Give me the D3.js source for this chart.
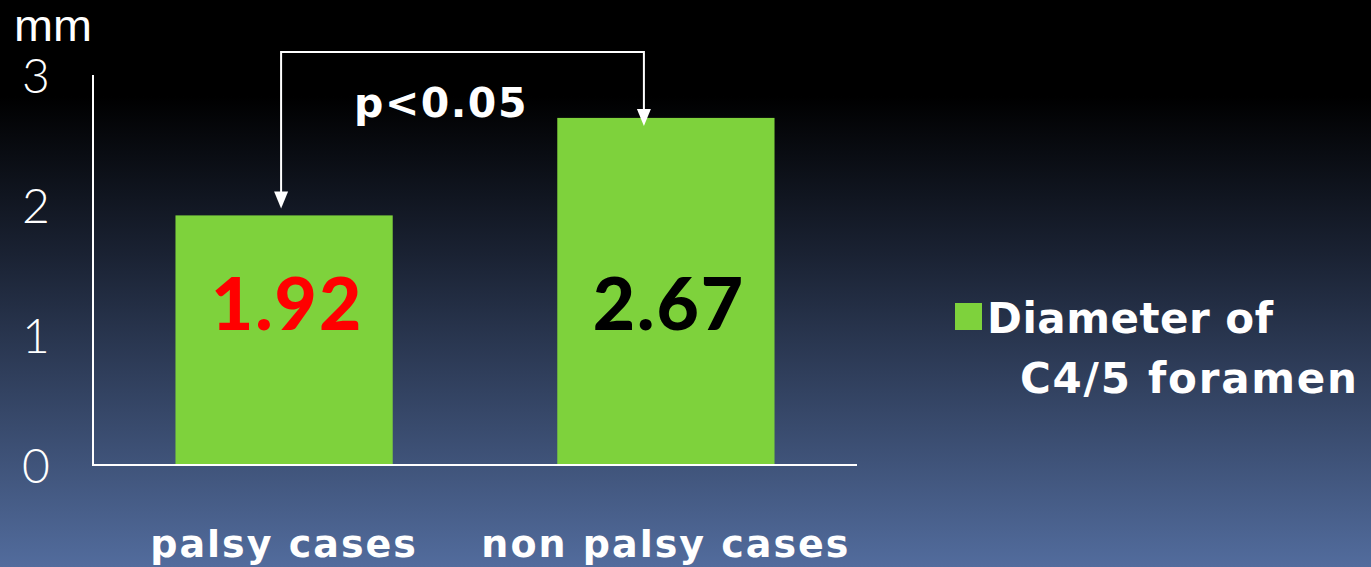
<!DOCTYPE html>
<html><head><meta charset="utf-8">
<script src="https://cdn.jsdelivr.net/npm/d3@7"></script>
<style>html,body{margin:0;padding:0;background:#000;overflow:hidden}</style>
</head><body>
<script>
const categories = ["palsy cases", "non palsy cases"];
const values = [1.92, 2.67];
const valueColors = ["#ff0000", "#000000"];
const yTicks = [0, 1, 2, 3];
const seriesName = ["Diameter of", "C4/5 foramen"];
const unitLabel = "mm";
const sigLabel = "p<0.05";

const W = 1371, H = 567;
const svg = d3.select("body").append("svg").attr("width", W).attr("height", H);
const defs = svg.append("defs");
const grad = defs.append("linearGradient").attr("id","bg").attr("x1",0).attr("y1",0).attr("x2",0).attr("y2",1);
grad.append("stop").attr("offset","0%").attr("stop-color","#000000");
grad.append("stop").attr("offset","17%").attr("stop-color","#000000");
grad.append("stop").attr("offset","45%").attr("stop-color","#1a2233");
grad.append("stop").attr("offset","100%").attr("stop-color","#526c9d");
svg.append("rect").attr("width",W).attr("height",H).attr("fill","url(#bg)");

const x = d3.scaleBand().domain(categories).range([93, 857]).paddingInner(0.431).paddingOuter(0.216);
const y = d3.scaleLinear().domain([0, 3]).range([465, 75]);

// bars
svg.selectAll("rect.bar").data(values).enter().append("rect")
  .attr("class","bar")
  .attr("x",(d,i)=>x(categories[i]))
  .attr("y",d=>y(d))
  .attr("width",x.bandwidth())
  .attr("height",d=>y(0)-y(d))
  .attr("fill","#7ed23c");

// axes
svg.append("line").attr("x1",93).attr("x2",93).attr("y1",y(3)).attr("y2",y(0)+1).attr("stroke","#fff").attr("stroke-width",2);
svg.append("line").attr("x1",93).attr("x2",857).attr("y1",y(0)).attr("y2",y(0)).attr("stroke","#fff").attr("stroke-width",2);

svg.selectAll("text.tick").data(yTicks).enter().append("text")
  .attr("class","tick")
  .attr("x",36).attr("y",d=>y(d)+18)
  .attr("text-anchor","middle")
  .attr("font-family","Lato, Liberation Sans, Arial, sans-serif")
  .attr("font-weight","300")
  .attr("font-size",48)
  .attr("fill","#fff")
  .text(d=>d);

svg.append("text").attr("x",14).attr("y",41)
  .attr("font-family","Liberation Sans, Arial, sans-serif")
  .attr("font-size",44).attr("textLength",78).attr("lengthAdjust","spacingAndGlyphs")
  .attr("fill","#fff").text(unitLabel);

// category labels
svg.selectAll("text.cat").data(categories).enter().append("text")
  .attr("class","cat")
  .attr("x",d=>x(d)+x.bandwidth()/2)
  .attr("y",557)
  .attr("text-anchor","middle")
  .attr("font-family","DejaVu Sans, Verdana, sans-serif")
  .attr("font-weight","bold")
  .attr("font-size",38)
  .attr("letter-spacing",2)
  .attr("fill","#fff")
  .text(d=>d);

// value labels
svg.selectAll("text.val").data(values).enter().append("text")
  .attr("class","val")
  .attr("x",(d,i)=>x(categories[i])+x.bandwidth()/2+3)
  .attr("y",330)
  .attr("text-anchor","middle")
  .attr("font-family","Lato, Open Sans, sans-serif")
  .attr("font-weight","900")
  .attr("font-size",73)
  .attr("letter-spacing",2)
  .attr("fill",(d,i)=>valueColors[i])
  .text(d=>d.toFixed(2));

// significance bracket
const x1 = x(categories[0]) + x.bandwidth()/2 - 3;
const x2 = x(categories[1]) + x.bandwidth()/2 - 22;
const topY = 52;
const tip1 = y(values[0]) - 7;
const tip2 = y(values[1]) + 8;
svg.append("path")
  .attr("d",`M${x1},${tip1-14} L${x1},${topY} L${x2},${topY} L${x2},${tip2-14}`)
  .attr("fill","none").attr("stroke","#fff").attr("stroke-width",2);
[[x1,tip1],[x2,tip2]].forEach(([ax,ay])=>{
  svg.append("path").attr("d",`M${ax-7},${ay-17} L${ax+7},${ay-17} L${ax},${ay} Z`).attr("fill","#fff");
});
svg.append("text").attr("x",441).attr("y",117).attr("text-anchor","middle")
  .attr("font-family","DejaVu Sans, Verdana, sans-serif").attr("font-weight","bold")
  .attr("font-size",41).attr("letter-spacing",1.5).attr("fill","#fff").text(sigLabel);

// legend
svg.append("rect").attr("x",955).attr("y",303).attr("width",27).attr("height",27).attr("fill","#7ed23c");
svg.append("text").attr("x",987).attr("y",333)
  .attr("font-family","DejaVu Sans, Verdana, sans-serif").attr("font-weight","bold")
  .attr("font-size",42).attr("textLength",286).attr("lengthAdjust","spacing").attr("fill","#fff").text(seriesName[0]);
svg.append("text").attr("x",1020).attr("y",393)
  .attr("font-family","DejaVu Sans, Verdana, sans-serif").attr("font-weight","bold")
  .attr("font-size",42).attr("textLength",337).attr("lengthAdjust","spacing").attr("fill","#fff").text(seriesName[1]);
</script>
</body></html>
